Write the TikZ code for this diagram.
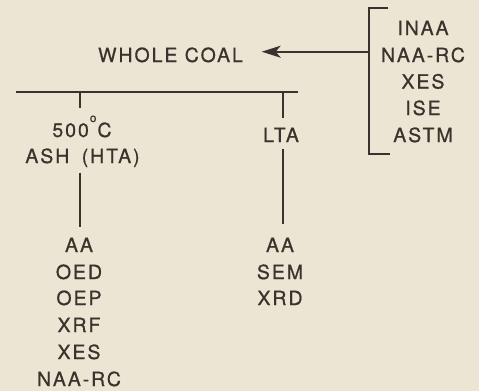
\documentclass[tikz,border=0pt]{standalone}
\usepackage{fontspec}
\newfontfamily\lbfont[LetterSpace=10,FakeBold=0.7]{TeX Gyre Heros}
\usetikzlibrary{arrows.meta}
\definecolor{paper}{RGB}{236,229,211}
\definecolor{ink}{RGB}{58,50,44}
\newcommand{\degring}{\raisebox{15pt}{\fontsize{12}{12}\selectfont o}}
\begin{document}
\begin{tikzpicture}[x=1pt,y=-1pt,
  lbl/.style={font=\lbfont\fontsize{19.5}{21}\selectfont, text=ink, inner sep=0pt, anchor=base},
  ln/.style={draw=ink, line width=1.9pt},
  arr/.style={ln, -{Stealth[length=19pt,width=12pt,inset=5pt]}}
]
\fill[paper] (0,0) rectangle (479,391);
\useasboundingbox (0,0) rectangle (479,391);

% texts
\node[lbl] (coal) at (170.5,62) {WHOLE COAL};
\foreach \t/\y/\n in {INAA/35/r1, NAA-RC/62/r2, XES/88.5/r3, ISE/115/r4, ASTM/142/r5}
  \node[lbl] (\n) at (423,\y) {\t};
\node[lbl] (deg) at (82,137) {500\kern1pt\degring\kern1pt C};
\node[lbl] (ash) at (82.5,163) {ASH\hspace{5pt} (HTA)};
\node[lbl] (lta) at (281,142) {LTA};
\foreach \t/\y/\n in {AA/252/a1, OED/279/a2, OEP/305/a3, XRF/332/a4, XES/359/a5, NAA-RC/386/a6}
  \node[lbl] (\n) at (79,\y) {\t};
\foreach \t/\y/\n in {AA/252/b1, SEM/279/b2, XRD/305/b3}
  \node[lbl] (\n) at (280,\y) {\t};

% bracket and arrow
\coordinate (brt) at (388,8);
\coordinate (brtl) at (369,8);
\coordinate (brbl) at (369,154);
\coordinate (brb) at (390,154);
\coordinate (brm) at (369,51.7);
\coordinate (tip) at (261.7,51.7);
\draw[ln] (brt) -- (brtl) -- (brbl) -- (brb);
\draw[arr] (brm) -- (tip);

% split bar
\coordinate (hl) at (16,92.3);
\coordinate (hr) at (297.7,92.3);
\draw[ln] (hl) -- (hr);
\coordinate (lt1) at (80,92.3);
\coordinate (lt2) at (80,108);
\coordinate (rt1) at (282.7,92.3);
\coordinate (rt2) at (282.7,118.3);
\draw[ln] (lt1) -- (lt2);
\draw[ln] (rt1) -- (rt2);

% lower connectors
\coordinate (ll1) at (80,172.7);
\coordinate (ll2) at (80,226.7);
\coordinate (rl1) at (283,149);
\coordinate (rl2) at (283,224.3);
\draw[ln] (ll1) -- (ll2);
\draw[ln] (rl1) -- (rl2);
\end{tikzpicture}
\end{document}
